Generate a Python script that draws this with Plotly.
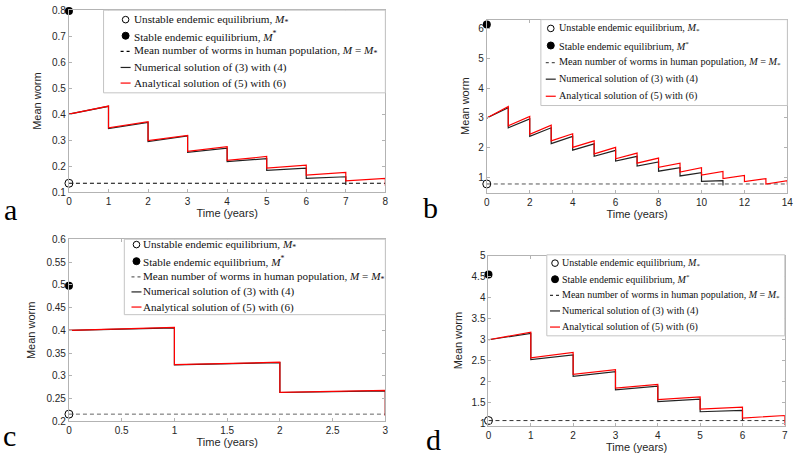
import plotly.graph_objects as go

# ---------------- data ----------------
# values right after each yearly treatment (start of each year) and just before the next one (end of year)
a_num_start = [0.400, 0.344, 0.294, 0.253, 0.217, 0.184, 0.153]
a_num_end = [0.430, 0.368, 0.316, 0.269, 0.229, 0.192, 0.159]
a_num_last = 0.127
a_ana_start = [0.400, 0.347, 0.298, 0.257, 0.222, 0.192, 0.165, 0.143]
a_ana_end = [0.431, 0.371, 0.318, 0.275, 0.237, 0.204, 0.176, 0.153]
a_ana_last = 0.124
a_unstable = 0.134
a_stable = 0.797

b_num_start = [3.00, 2.67, 2.38, 2.14, 1.92, 1.71, 1.55, 1.38, 1.21, 1.05, 0.87]
b_num_end = [3.35, 2.97, 2.67, 2.38, 2.13, 1.91, 1.71, 1.52, 1.33, 1.16, 0.89]
b_num_last = 0.73
b_ana_start = [3.00, 2.74, 2.45, 2.23, 2.01, 1.79, 1.63, 1.48, 1.34, 1.18, 1.08, 0.96, 0.86, 0.78]
b_ana_end = [3.39, 3.05, 2.76, 2.47, 2.23, 2.01, 1.82, 1.65, 1.48, 1.33, 1.20, 1.07, 0.96, 0.89]
b_ana_last = 0.75
b_unstable = 0.78
b_stable = 6.15

c_num_start = [0.400, 0.324, 0.2635]
c_num_end = [0.4055, 0.329, 0.267]
c_num_last = 0.213
c_ana_start = [0.400, 0.3245, 0.264]
c_ana_end = [0.4065, 0.330, 0.268]
c_ana_last = 0.212
c_unstable = 0.216
c_stable = 0.498

d_num_start = [3.00, 2.53, 2.13, 1.81, 1.53, 1.29]
d_num_end = [3.15, 2.64, 2.24, 1.90, 1.59, 1.32]
d_num_last = 1.08
d_ana_start = [3.00, 2.57, 2.18, 1.85, 1.58, 1.35, 1.14]
d_ana_end = [3.18, 2.70, 2.29, 1.94, 1.64, 1.40, 1.20]
d_ana_last = 0.97
d_unstable = 1.08
d_stable = 4.55

panel_letters = ["a", "b", "c", "d"]
x_ranges = [[0, 8], [0, 14], [0, 3], [0, 7]]
y_ranges = [[0.1, 0.8], [0.487, 6.31], [0.2, 0.6], [0.96, 5.0]]
x_dticks = [1, 2, 0.5, 1]
y_dticks = [0.1, 1, 0.05, 0.5]
y_tick0 = [0.1, 1, 0.2, 1]

LEG = [
    "Unstable endemic equilibrium, <i>M</i><sub>*</sub>",
    "Stable endemic equilibrium, <i>M</i><sup>*</sup>",
    "Mean number of worms in human population, <i>M</i> = <i>M</i><sub>*</sub>",
    "Numerical solution of (3) with (4)",
    "Analytical solution of (5) with (6)",
]

panels = [
    (a_num_start, a_num_end, a_num_last, a_ana_start, a_ana_end, a_ana_last, a_unstable, a_stable),
    (b_num_start, b_num_end, b_num_last, b_ana_start, b_ana_end, b_ana_last, b_unstable, b_stable),
    (c_num_start, c_num_end, c_num_last, c_ana_start, c_ana_end, c_ana_last, c_unstable, c_stable),
    (d_num_start, d_num_end, d_num_last, d_ana_start, d_ana_end, d_ana_last, d_unstable, d_stable),
]


def saw(starts, ends, last):
    xs, ys = [], []
    for k, (s, e) in enumerate(zip(starts, ends)):
        xs += [k, k + 1]
        ys += [s, e]
    xs.append(len(starts))
    ys.append(last)
    return xs, ys


# ---------------- layout geometry (pixels) ----------------
W, H = 800, 457
boxes = [  # left, right, top, bottom in px
    (66.7, 386.7, 5.3, 191.7),
    (489.3, 793.3, 15.0, 192.3),
    (66.7, 386.7, 240.0, 426.7),
    (491.0, 790.7, 256.7, 431.0),
]
# legend box (left, right, top, bottom), symbol centre x, text start x, row centres y, font size
legends = [
    ((101.7, 386.7, 5.3, 90.0), 124.0, 130.5, [15.0, 31.5, 47.5, 64.0, 80.0], 11.2),
    ((544.0, 793.3, 15.0, 103.0), 554.0, 560.5, [24.0, 41.5, 59.0, 76.0, 93.5], 10.2),
    ((122.7, 386.7, 240.0, 317.3), 135.0, 140.0, [245.5, 262.5, 278.5, 294.0, 309.5], 11.1),
    ((550.0, 790.7, 256.0, 339.0), 558.3, 563.3, [264.5, 281.0, 297.5, 313.5, 330.0], 10.0),
]
letter_pos = [(8, 210), (432, 207), (7, 441), (435, 445)]
title_standoff = [8, 6, 8, 6]
dash_colors = ["#000000", "#555555", "#666666", "#333333"]
NUMC = "#222222"
ANAC = "#ff0000"

fig = go.Figure()
shapes = []
annotations = []
layout = dict(
    width=W, height=H,
    margin=dict(l=0, r=0, t=0, b=0),
    paper_bgcolor="white", plot_bgcolor="white",
    showlegend=False,
)

AXC = "#b3b3b3"
TICKF = dict(family="Liberation Sans, Arial", size=10, color="#262626")
TITLEF = dict(family="Liberation Sans, Arial", size=11, color="#262626")


def px_x(v):
    return v / W


def px_y(v):
    return 1 - v / H


for i, p in enumerate(panels):
    ns, ne, nl, as_, ae, al, uns, stb = p
    n = i + 1
    xa = "x" if n == 1 else f"x{n}"
    ya = "y" if n == 1 else f"y{n}"
    xend = x_ranges[i][1]

    xs, ys = saw(ns, ne, nl)
    xr, yr = saw(as_, ae, al)

    fig.add_trace(go.Scatter(x=[0, xend], y=[uns, uns], mode="lines", name=LEG[2],
                             line=dict(color=dash_colors[i], width=1, dash="4px,3px"),
                             xaxis=xa, yaxis=ya))
    fig.add_trace(go.Scatter(x=xs, y=ys, mode="lines", name=LEG[3],
                             line=dict(color=NUMC, width=1.2), xaxis=xa, yaxis=ya))
    fig.add_trace(go.Scatter(x=xr, y=yr, mode="lines", name=LEG[4],
                             line=dict(color=ANAC, width=1.2), xaxis=xa, yaxis=ya))
    fig.add_trace(go.Scatter(x=[0], y=[uns], mode="markers", name=LEG[0],
                             marker=dict(symbol="circle-open", size=8, color="black",
                                         line=dict(width=1, color="black")),
                             cliponaxis=False, xaxis=xa, yaxis=ya))
    fig.add_trace(go.Scatter(x=[0], y=[stb], mode="markers", name=LEG[1],
                             marker=dict(symbol="circle", size=8, color="black"),
                             cliponaxis=False, xaxis=xa, yaxis=ya))

    l, r, t, b = boxes[i]
    xkey = "xaxis" if n == 1 else f"xaxis{n}"
    ykey = "yaxis" if n == 1 else f"yaxis{n}"
    layout[xkey] = dict(
        domain=[l / W, r / W], anchor=ya, range=x_ranges[i],
        tickmode="linear", tick0=0, dtick=x_dticks[i],
        showgrid=False, zeroline=False, showline=True, linecolor=AXC, linewidth=1,
        mirror="ticks", ticks="inside", ticklen=3, tickcolor=AXC,
        tickfont=TICKF, title=dict(text="Time (years)", font=TITLEF, standoff=1),
    )
    layout[ykey] = dict(
        domain=[1 - b / H, 1 - t / H], anchor=xa, range=y_ranges[i],
        tickmode="linear", tick0=y_tick0[i], dtick=y_dticks[i],
        showgrid=False, zeroline=False, showline=True, linecolor=AXC, linewidth=1,
        mirror="ticks", ticks="inside", ticklen=3, tickcolor=AXC,
        tickfont=TICKF, title=dict(text="Mean worm", font=TITLEF, standoff=title_standoff[i]),
    )

    # ---- hand-built legend box ----
    (bl, br, bt, bb), sx, tx, rows, fsz = legends[i]
    legf = dict(family="Liberation Serif, DejaVu Serif", size=fsz, color="#111111")
    shapes.append(dict(type="rect", xref="paper", yref="paper", layer="above",
                       x0=px_x(bl), x1=px_x(br), y0=px_y(bb), y1=px_y(bt),
                       line=dict(color="#c4c4c4", width=1), fillcolor="white"))
    shapes.append(dict(type="circle", xref="paper", yref="paper", layer="above",
                       xsizemode="pixel", ysizemode="pixel",
                       xanchor=px_x(sx), yanchor=px_y(rows[0]),
                       x0=-3.3, x1=3.3, y0=-3.3, y1=3.3,
                       line=dict(color="black", width=1), fillcolor="white"))
    shapes.append(dict(type="circle", xref="paper", yref="paper", layer="above",
                       xsizemode="pixel", ysizemode="pixel",
                       xanchor=px_x(sx), yanchor=px_y(rows[1]),
                       x0=-3.5, x1=3.5, y0=-3.5, y1=3.5,
                       line=dict(color="black", width=1), fillcolor="black"))
    for k, (col, dash) in enumerate([(dash_colors[i], "3px,3px"), (NUMC, "solid"), (ANAC, "solid")]):
        shapes.append(dict(type="line", xref="paper", yref="paper", layer="above",
                           xsizemode="pixel", ysizemode="pixel",
                           xanchor=px_x(sx), yanchor=px_y(rows[2 + k]),
                           x0=-5, x1=5, y0=0, y1=0,
                           line=dict(color=col, width=1.2, dash=dash)))
    for k in range(5):
        annotations.append(dict(text=LEG[k], x=px_x(tx), y=px_y(rows[k]),
                                xref="paper", yref="paper", showarrow=False,
                                xanchor="left", yanchor="middle", font=legf))

    px, py = letter_pos[i]
    annotations.append(dict(
        text=panel_letters[i], x=px / W, y=1 - py / H, xref="paper", yref="paper",
        showarrow=False, xanchor="center", yanchor="middle",
        font=dict(family="Liberation Serif, DejaVu Serif", size=30, color="black"),
    ))

layout["shapes"] = shapes
layout["annotations"] = annotations
fig.update_layout(**layout)
fig.write_html("out.html", config={"displayModeBar": False},
               post_script="document.body.style.margin='0';")
